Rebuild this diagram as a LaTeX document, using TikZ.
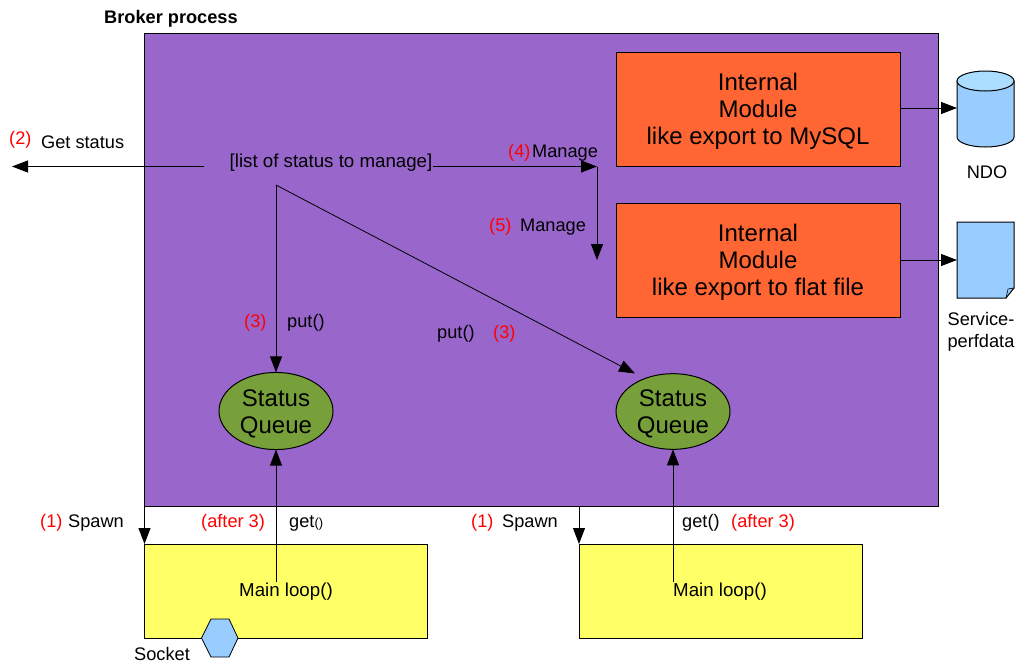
\documentclass[tikz,border=0pt]{standalone}
\usepackage{fontspec}
\setmainfont{Liberation Sans}
\usetikzlibrary{arrows.meta,shapes.geometric}
\definecolor{brokerpurple}{HTML}{9966CC}
\definecolor{modorange}{HTML}{FF6633}
\definecolor{loopyellow}{HTML}{FFFF66}
\definecolor{queuegreen}{HTML}{77A03A}
\definecolor{lightblue}{HTML}{99CCFF}
\definecolor{topblue}{HTML}{AADDFF}
\tikzset{
  x=1pt,y=-1pt,
  box/.style={draw=black,line width=1pt,inner sep=0pt,outer sep=0pt,anchor=north west},
  modbox/.style={box,fill=modorange,minimum width=284pt,minimum height=114pt,align=center,font=\fontsize{24}{27}\selectfont},
  loopbox/.style={box,fill=loopyellow,minimum width=283pt,minimum height=94pt},
  queue/.style={ellipse,draw=black,line width=1pt,fill=queuegreen,minimum width=114pt,minimum height=75pt,inner sep=0pt,outer sep=0pt,align=center,font=\fontsize{24}{27}\selectfont},
  arr/.style={line width=1pt,-{Triangle[length=16pt,width=12pt]}},
  thinarr/.style={line width=.8pt,-{Triangle[length=16pt,width=12pt]}},
  lbl/.style={font=\fontsize{18.2}{22}\selectfont,inner sep=0pt,anchor=base west},
  red lbl/.style={lbl,text=red},
  widelbl/.style={lbl,anchor=center,font=\fontsize{18.7}{22}\selectfont}
}
\begin{document}
\begin{tikzpicture}
\useasboundingbox (0,0) rectangle (1026,670);
\node[box,fill=brokerpurple,minimum width=794pt,minimum height=473pt] (broker) at (144.5,33) {};
\node[lbl,font=\fontsize{18.2}{20}\selectfont\bfseries] (brokerlbl) at (104,23) {Broker process};
% modules
\node[modbox] (mod1) at (616,52) {\rule{0pt}{22pt}Internal\\Module\\like export to MySQL};
\node[modbox] (mod2) at (616,203) {\rule{0pt}{22pt}Internal\\Module\\like export to flat file};
% NDO cylinder
\coordinate (cylL) at (957,108);
\filldraw[fill=lightblue,draw=black,line width=1pt] (957,81) -- (957,137) arc[start angle=180,end angle=360,x radius=28.5pt,y radius=10pt] -- (1014,81) -- cycle;
\filldraw[fill=topblue,draw=black,line width=1pt] (985.5,81) ellipse[x radius=28.5pt,y radius=10pt];
\node[lbl,anchor=center] (ndo) at (987,172) {NDO};
% document
\coordinate (docL) at (957,260);
\filldraw[fill=lightblue,draw=black,line width=1pt] (957,222) -- (1014,222) -- (1014,288) -- (1006,298) -- (957,298) -- cycle;
\draw[line width=.6pt] (1014,288) -- (1008,289) -- (1006,298);
\node[lbl,anchor=center,align=center,font=\fontsize{18.2}{22}\selectfont] (perf) at (981,332) {Service-\\perfdata};
% queues
\node[queue] (q1) at (276,411) {\rule{0pt}{23pt}Status\\Queue};
\node[queue] (q2) at (673,411.5) {\rule{0pt}{22pt}Status\\Queue};
% loop boxes
\node[loopbox] (loop1) at (144.5,544) {};
\node[loopbox] (loop2) at (579,544) {};
\node[widelbl] (ml1) at (286,592) {Main loop()};
\node[widelbl] (ml2) at (720,592) {Main loop()};
% socket
\coordinate (socket) at (220,638);
\filldraw[fill=lightblue,draw=black,line width=.8pt] (201.5,638) -- (211,619) -- (229,619) -- (238,638) -- (229,657) -- (211,657) -- cycle;
\node[lbl] (socketlbl) at (134,660) {Socket};
% status list
\node[widelbl] (list) at (331,163) {[list of status to manage]};
% connectors
\coordinate (listL) at (204,166.5);
\coordinate (out) at (12,166.5);
\draw[arr] (listL) -- (out);
\coordinate (ls) at (433,166.5);
\coordinate (corner) at (597,166.5);
\coordinate (mgmt) at (597,260);
\draw[arr] (ls) -- (corner);
\draw[arr] (corner) -- (mgmt);
\coordinate (fork) at (276,185);
\coordinate (q2tip) at (635,373.5);
\draw[arr] (fork) -- (q1.north);
\draw[thinarr] (fork) -- (q2tip);
\draw[arr] (mod1.east |- cylL) -- (cylL);
\draw[arr] (mod2.east |- docL) -- (docL);
\coordinate (g1) at (276,582);
\coordinate (g2) at (673,582);
\draw[arr] (g1) -- (q1.south);
\draw[arr] (g2) -- (q2.south);
\draw[arr] (broker.south west) -- (loop1.north west);
\coordinate (s2) at (579,506);
\draw[arr] (s2) -- (loop2.north west);
% labels
\node[red lbl] (n2) at (9,144) {(2)};
\node[lbl] (t2) at (41,148) {Get status};
\node[red lbl] (n4) at (508,157) {(4)};
\node[lbl] (t4) at (532,157) {Manage};
\node[red lbl] (n5) at (489,231) {(5)};
\node[lbl] (t5) at (520,231) {Manage};
\node[red lbl] (n3a) at (244,327) {(3)};
\node[lbl] (t3a) at (287,327) {put()};
\node[lbl] (t3b) at (437,338) {put()};
\node[red lbl] (n3b) at (493,338) {(3)};
\node[red lbl] (n1a) at (40,527) {(1)};
\node[lbl] (t1a) at (68,527) {Spawn};
\node[red lbl] (a3a) at (201,527) {(after 3)};
\node[lbl] (ga) at (289,527) {get\fontsize{13}{14}\selectfont()};
\node[red lbl] (n1b) at (471,527) {(1)};
\node[lbl] (t1b) at (502,527) {Spawn};
\node[lbl] (gb) at (682,527) {get()};
\node[red lbl] (a3b) at (731,527) {(after 3)};
\end{tikzpicture}
\end{document}
